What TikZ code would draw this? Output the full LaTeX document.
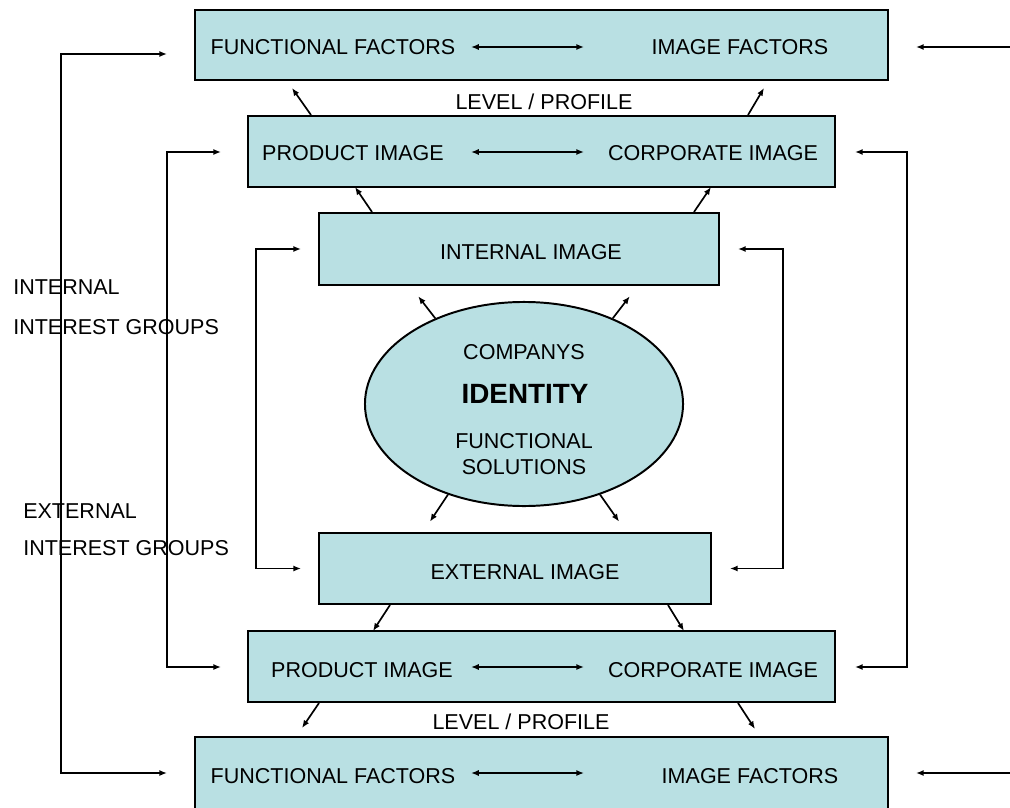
\documentclass[tikz,border=0pt]{standalone}
\usepackage{fontspec}
\setmainfont{Liberation Sans}
\usetikzlibrary{fit,shapes.geometric,arrows.meta}

\definecolor{boxfill}{RGB}{185,224,227}

\begin{document}
\begin{tikzpicture}[x=0.025cm, y=-0.025cm, >={Latex[length=5.5pt,width=4.4pt]},
    box/.style={draw, fill=boxfill, line width=1.4pt, inner sep=0pt},
    lbl/.style={font=\fontsize{15.3}{18}\selectfont, inner sep=0pt, text height=11pt, text depth=0pt},
    arr/.style={line width=1.2pt, ->}]

    \useasboundingbox (0,0) rectangle (1010,807);

    % --- Boxes, top to bottom ---
    \node[box, fit={(195,10) (888,80)}] (topF) {};
    \node[box, fit={(248,116) (835,187)}] (prodT) {};
    \node[box, fit={(319,213) (719,285)}] (intI) {};
    \node[box, ellipse, minimum width=7.95cm, minimum height=5.1cm] (ident) at (524,404) {};
    \node[box, fit={(319,533) (711,604)}] (extI) {};
    \node[box, fit={(248,631) (835,702)}] (prodB) {};
    \node[box, fit={(195,737) (888,809)}] (botF) {};

    % --- Texts in the boxes ---
    \node[lbl] (ffTop) at (333,47) {FUNCTIONAL FACTORS};
    \node[lbl] (ifTop) at (740,47) {IMAGE FACTORS};
    \node[lbl] (lvTop) at (544,102) {LEVEL / PROFILE};
    \node[lbl] (piTop) at (353,153) {PRODUCT IMAGE};
    \node[lbl] (ciTop) at (713,153) {CORPORATE IMAGE};
    \node[lbl] (intTxt) at (531,252) {INTERNAL IMAGE};

    \node[lbl] (compTxt) at (524,352) {COMPANYS};
    \node[lbl, font=\fontsize{19.8}{22}\bfseries, text height=14.2pt] (idTxt) at (525,394) {IDENTITY};
    \node[lbl] (funcTxt) at (524,441) {FUNCTIONAL};
    \node[lbl] (solTxt) at (524,467) {SOLUTIONS};

    \node[lbl] (extTxt) at (525,572) {EXTERNAL IMAGE};
    \node[lbl] (piBot) at (362,670) {PRODUCT IMAGE};
    \node[lbl] (ciBot) at (713,670) {CORPORATE IMAGE};
    \node[lbl] (lvBot) at (521,722) {LEVEL / PROFILE};
    \node[lbl] (ffBot) at (333,776) {FUNCTIONAL FACTORS};
    \node[lbl] (ifBot) at (750,776) {IMAGE FACTORS};

    % --- Interest groups on the left ---
    \node[lbl, anchor=west] (intGrp) at (13,287) {INTERNAL};
    \node[lbl, anchor=west] (intGrp2) at (13,327) {INTEREST GROUPS};
    \node[lbl, anchor=west] (extGrp) at (23,511) {EXTERNAL};
    \node[lbl, anchor=west] (extGrp2) at (23,548) {INTEREST GROUPS};

    % --- Arrows inside the boxes ---
    \draw[arr, <->] ([shift={(277,2)}]topF.west) -- ([shift={(390,2)}]topF.west);
    \draw[arr, <->] ([shift={(224,0.5)}]prodT.west) -- ([shift={(337,0.5)}]prodT.west);
    \draw[arr, <->] ([shift={(224,0.5)}]prodB.west) -- ([shift={(337,0.5)}]prodB.west);
    \draw[arr, <->] ([shift={(277,0)}]botF.west) -- ([shift={(390,0)}]botF.west);

    % --- Incoming arrows on the right ---
    \coordinate (inTop) at (1010,47);
    \coordinate (inBot) at (1010,773);
    \draw[arr] (inTop) -- ([shift={(27,2)}]topF.east);
    \draw[arr] (inBot) -- ([shift={(27,0)}]botF.east);

    % --- Brackets ---
    \draw[arr, <->] ([shift={(-27,9)}]topF.west) -- ++(-106,0) |- ([shift={(-27,0)}]botF.west);
    \draw[arr, <->] ([shift={(-26,0.5)}]prodT.west) -- ++(-54,0) |- ([shift={(-26,0.5)}]prodB.west);
    \draw[arr, <->] ([shift={(19,0.5)}]prodT.east) -- ++(52,0) |- ([shift={(19,0.5)}]prodB.east);
    \draw[arr, <->] ([shift={(-17,0)}]intI.west) -- ++(-45,0) |- ([shift={(-17,0)}]extI.west);
    \draw[arr, <->] ([shift={(18,0)}]intI.east) -- ++(45,0) |- ([shift={(18,0)}]extI.east);

    % --- Diagonal arrows, upper half ---
    \draw[arr] ([shift={(64,0)}]prodT.north west) -- ++(-19,-27);
    \draw[arr] ([shift={(-88,0)}]prodT.north east) -- ++(16,-27);
    \draw[arr] ([shift={(54,0)}]intI.north west) -- ++(-17,-25);
    \draw[arr] ([shift={(-26,0)}]intI.north east) -- ++(17,-25);
    \draw[arr] (ident.136) -- ++(-17,-22);
    \draw[arr] (ident.44) -- ++(17,-22);

    % --- Diagonal arrows, lower half ---
    \draw[arr] (ident.230) -- ++(-18,27);
    \draw[arr] (ident.310) -- ++(19,27);
    \draw[arr] ([shift={(72,0)}]extI.south west) -- ++(-17,26);
    \draw[arr] ([shift={(-44,0)}]extI.south east) -- ++(16,26);
    \draw[arr] ([shift={(72,0)}]prodB.south west) -- ++(-17,25);
    \draw[arr] ([shift={(-98,0)}]prodB.south east) -- ++(17,26);

\end{tikzpicture}
\end{document}
